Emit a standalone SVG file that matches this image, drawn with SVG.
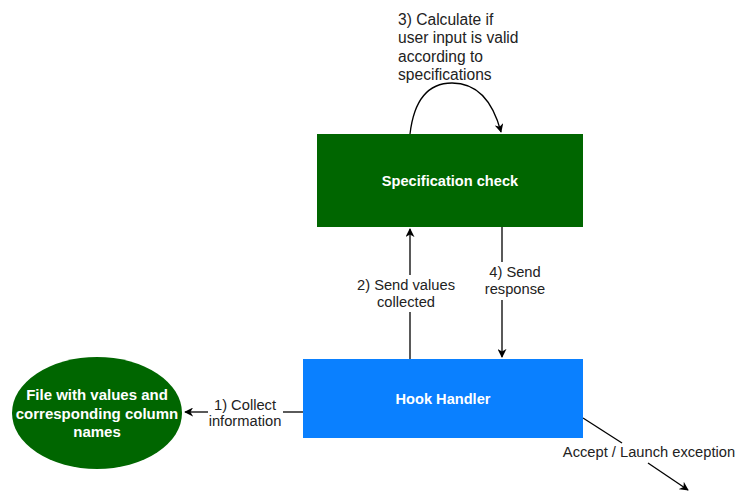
<svg xmlns="http://www.w3.org/2000/svg" width="740" height="492" viewBox="0 0 740 492">
  <style>
    .lbl { font-family: "Liberation Sans", Arial, sans-serif; font-size: 14.7px; fill: #222; }
    .lbl-big { font-family: "Liberation Sans", Arial, sans-serif; font-size: 15.6px; fill: #222; }
    .nodeText { font-family: "Liberation Sans", Arial, sans-serif; font-size: 14.6px; font-weight: bold; fill: #ffffff; }
    .edge { fill: none; stroke: #000; stroke-width: 1.3; }
  </style>
  <defs>
    <marker id="arrow" viewBox="0 0 10 10" refX="9" refY="5" markerWidth="9" markerHeight="9" markerUnits="userSpaceOnUse" orient="auto">
      <path d="M0,0 L10,5 L0,10 L3,5 Z" fill="#000"/>
    </marker>
  </defs>
  <rect width="740" height="492" fill="#ffffff"/>

  <g id="connectors">
    <!-- 3) self loop on specification check -->
    <path class="edge" d="M410,134 C414,100 428,83 452,83 C478,83 493,102 501,132" marker-end="url(#arrow)"/>
    <!-- 2) hook handler -> specification check -->
    <path class="edge" d="M410,359 L410,312"/>
    <path class="edge" d="M410,275 L410,229" marker-end="url(#arrow)"/>
    <!-- 4) specification check -> hook handler -->
    <path class="edge" d="M502,227 L502,262"/>
    <path class="edge" d="M502,300 L502,357" marker-end="url(#arrow)"/>
    <!-- 1) hook handler -> file -->
    <path class="edge" d="M303,412 L283,412"/>
    <path class="edge" d="M208,412 L185,412" marker-end="url(#arrow)"/>
    <!-- accept / launch exception -->
    <path class="edge" d="M583,418 L622,443"/>
    <path class="edge" d="M648,463 L688,490" marker-end="url(#arrow)"/>

    <text class="lbl-big" x="398" y="24.5">3) Calculate if</text>
    <text class="lbl-big" x="398" y="43">user input is valid</text>
    <text class="lbl-big" x="398" y="61.5">according to</text>
    <text class="lbl-big" x="398" y="80">specifications</text>

    <text class="lbl" x="406" y="290" text-anchor="middle">2) Send values</text>
    <text class="lbl" x="406" y="307" text-anchor="middle">collected</text>

    <text class="lbl" x="515" y="277" text-anchor="middle">4) Send</text>
    <text class="lbl" x="515" y="294" text-anchor="middle">response</text>

    <text class="lbl" x="245" y="410" text-anchor="middle">1) Collect</text>
    <text class="lbl" x="245" y="426" text-anchor="middle">information</text>

    <text class="lbl" x="649" y="457" text-anchor="middle">Accept / Launch exception</text>
  </g>

  <g id="spec-check">
    <rect x="317" y="134" width="266" height="93" fill="#006600"/>
    <text class="nodeText" x="450" y="186" text-anchor="middle">Specification check</text>
  </g>

  <g id="hook-handler">
    <rect x="303" y="359" width="280" height="79" fill="#0a80ff"/>
    <text class="nodeText" x="443" y="404" text-anchor="middle">Hook Handler</text>
  </g>

  <g id="value-file">
    <ellipse cx="97" cy="413" rx="85" ry="56" fill="#006600"/>
    <g style="font-size:15px">
      <text class="nodeText" style="font-size:15px" x="97" y="400" text-anchor="middle">File with values and</text>
      <text class="nodeText" style="font-size:15px" x="97" y="418.5" text-anchor="middle">corresponding column</text>
      <text class="nodeText" style="font-size:15px" x="97" y="437" text-anchor="middle">names</text>
    </g>
  </g>
</svg>
